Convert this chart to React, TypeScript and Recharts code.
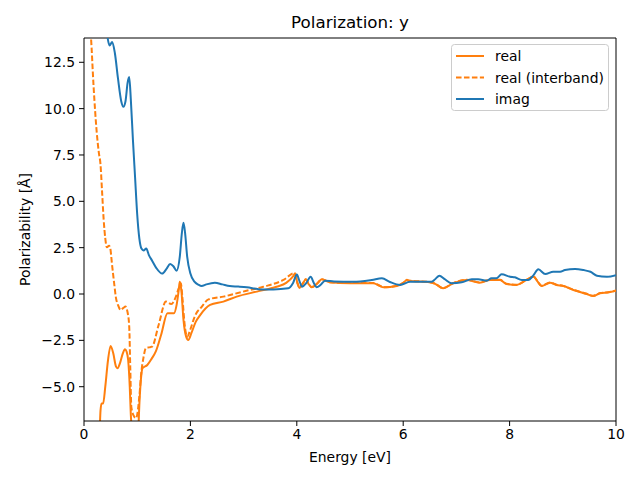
import React from 'react';
import { LineChart, Line, XAxis, YAxis, ReferenceLine } from 'recharts';

// ---- data ----
const imagE = [0.40, 0.44, 0.48, 0.53, 0.58, 0.64, 0.70, 0.74, 0.78, 0.82, 0.85, 0.88, 0.92, 0.96, 1.00, 1.04, 1.08, 1.12, 1.17, 1.22, 1.28, 1.36, 1.47, 1.55, 1.62, 1.68, 1.74, 1.80, 1.84, 1.87, 1.90, 1.94, 2.00, 2.08, 2.15, 2.21, 2.30, 2.46, 2.60, 2.74, 2.90, 3.06, 3.20, 3.31, 3.56, 3.84, 3.93, 4.00, 4.05, 4.10, 4.18, 4.26, 4.32, 4.37, 4.45, 4.53, 4.70, 5.06, 5.41, 5.60, 5.75, 5.94, 6.13, 6.53, 6.60, 6.68, 6.78, 6.91, 7.10, 7.29, 7.41, 7.57, 7.66, 7.75, 7.85, 8.01, 8.10, 8.23, 8.35, 8.45, 8.54, 8.67, 8.82, 8.95, 9.04, 9.23, 9.39, 9.52, 9.64, 9.83, 10.0];
const imagVals = [15.0, 13.9, 13.4, 13.6, 13.0, 11.6, 10.4, 10.1, 10.4, 11.4, 11.7, 10.5, 8.3, 6.3, 4.3, 3.0, 2.45, 2.35, 2.45, 2.1, 1.8, 1.4, 1.1, 1.35, 1.62, 1.5, 1.26, 2.0, 3.3, 3.85, 3.3, 2.0, 1.1, 0.65, 0.5, 0.43, 0.52, 0.61, 0.52, 0.43, 0.40, 0.36, 0.30, 0.25, 0.25, 0.31, 0.6, 1.05, 0.7, 0.39, 0.6, 0.93, 0.6, 0.36, 0.5, 0.72, 0.68, 0.66, 0.76, 0.85, 0.65, 0.49, 0.66, 0.66, 0.8, 0.99, 0.8, 0.58, 0.63, 0.79, 0.79, 0.72, 0.85, 0.85, 1.06, 0.93, 0.9, 0.76, 0.76, 1.02, 1.33, 1.08, 1.2, 1.2, 1.29, 1.35, 1.29, 1.2, 0.99, 0.93, 1.02];

const realE = [0.29, 0.31, 0.33, 0.36, 0.40, 0.45, 0.50, 0.55, 0.60, 0.63, 0.68, 0.73, 0.77, 0.80, 0.83, 0.86, 0.88, 0.91, 0.97, 1.02, 1.04, 1.07, 1.10, 1.19, 1.27, 1.35, 1.45, 1.57, 1.69, 1.74, 1.78, 1.80, 1.83, 1.87, 1.92, 1.96, 2.02, 2.10, 2.18, 2.37, 2.62, 2.87, 3.25, 3.62, 3.80, 3.93, 3.97, 4.01, 4.05, 4.11, 4.17, 4.22, 4.28, 4.38, 4.47, 4.62, 5.00, 5.44, 5.55, 5.63, 5.88, 6.00, 6.07, 6.10, 6.50, 6.60, 6.75, 6.94, 7.19, 7.44, 7.63, 7.82, 7.94, 8.13, 8.32, 8.45, 8.52, 8.60, 8.76, 8.88, 9.01, 9.20, 9.45, 9.57, 9.70, 9.86, 10.0];
const realVals = [-8.0, -6.3, -5.9, -5.9, -5.0, -3.6, -2.8, -3.2, -3.9, -4.0, -3.7, -3.2, -2.98, -3.1, -3.56, -5.0, -6.5, -7.5, -8.0, -7.3, -6.0, -4.6, -4.0, -3.83, -3.5, -3.1, -2.2, -1.04, -1.04, -0.6, 0.2, 0.66, 0.2, -1.4, -2.3, -2.48, -2.1, -1.5, -1.15, -0.59, -0.41, -0.14, 0.13, 0.39, 0.6, 0.95, 1.12, 0.6, 0.33, 0.55, 0.79, 0.55, 0.36, 0.55, 0.79, 0.63, 0.58, 0.58, 0.45, 0.36, 0.43, 0.6, 0.76, 0.72, 0.63, 0.55, 0.31, 0.58, 0.76, 0.61, 0.76, 0.76, 0.54, 0.49, 0.76, 0.93, 0.7, 0.43, 0.61, 0.49, 0.43, 0.22, 0.0, -0.11, 0.04, 0.09, 0.18];

const interE = [0.10, 0.13, 0.18, 0.24, 0.28, 0.31, 0.34, 0.37, 0.40, 0.43, 0.47, 0.49, 0.53, 0.57, 0.60, 0.64, 0.69, 0.74, 0.78, 0.82, 0.85, 0.87, 0.89, 0.94, 0.98, 1.02, 1.05, 1.07, 1.12, 1.16, 1.22, 1.28, 1.40, 1.54, 1.64, 1.72, 1.78, 1.82, 1.85, 1.89, 1.94, 2.00, 2.07, 2.13, 2.18, 2.34, 2.62, 2.99, 3.37, 3.75, 3.95, 4.01, 4.05, 4.11, 4.17, 4.22, 4.28, 4.38, 4.47, 4.62, 5.00, 5.44, 5.55, 5.63, 5.88, 6.00, 6.07, 6.10, 6.50, 6.60, 6.75, 6.94, 7.19, 7.44, 7.63, 7.82, 7.94, 8.13, 8.32, 8.45, 8.52, 8.60, 8.76, 8.88, 9.01, 9.20, 9.45, 9.57, 9.70, 9.86, 10.0];
const interVals = [15.0, 13.9, 11.2, 8.7, 7.6, 7.0, 5.5, 4.0, 3.0, 2.52, 2.6, 2.52, 1.5, 0.5, -0.2, -0.6, -0.86, -0.75, -0.68, -1.0, -1.76, -4.0, -6.1, -6.6, -6.7, -6.1, -5.2, -4.46, -3.4, -2.93, -2.88, -2.84, -1.7, -0.41, -0.54, -0.2, 0.3, 0.58, -0.2, -1.6, -2.3, -1.9, -1.3, -0.95, -0.8, -0.29, -0.14, 0.13, 0.39, 0.76, 1.12, 0.62, 0.36, 0.56, 0.8, 0.57, 0.38, 0.57, 0.8, 0.64, 0.59, 0.59, 0.46, 0.37, 0.44, 0.61, 0.77, 0.73, 0.64, 0.56, 0.32, 0.59, 0.77, 0.62, 0.77, 0.77, 0.55, 0.5, 0.77, 0.94, 0.71, 0.44, 0.62, 0.5, 0.44, 0.23, 0.01, -0.1, 0.05, 0.1, 0.19];

const xTicks = [0, 2, 4, 6, 8, 10];
const yTicks = [-5, -2.5, 0, 2.5, 5, 7.5, 10, 12.5];
const xDomain = [0, 10];
const yDomain = [-6.85, 13.81];

const ORANGE = '#ff7f0e';
const BLUE = '#1f77b4';
const FONT = '"DejaVu Sans", sans-serif';

const zip = (xs: number[], ys: number[]) => xs.map((x, i) => ({ x, y: ys[i] }));
const realData = zip(realE, realVals);
const interData = zip(interE, interVals);
const imagData = zip(imagE, imagVals);

const legendItems = [
  { name: 'real', color: ORANGE, dash: undefined as string | undefined },
  { name: 'real (interband)', color: ORANGE, dash: '5.55 2.4' },
  { name: 'imag', color: BLUE, dash: undefined as string | undefined },
];

const fmtY = (v: number) => v.toFixed(1).replace('-', '\u2212');

export default function App() {
  const tickStyle = { fill: '#000', fontSize: 13.9, fontFamily: FONT };
  return (
    <div style={{ position: 'absolute', left: 0, top: 0, width: 640, height: 480, background: '#fff' }}>
      <LineChart width={640} height={480} margin={{ top: 38, right: 24, bottom: 29, left: 24 }}>
        <XAxis
          type="number"
          dataKey="x"
          domain={xDomain}
          ticks={xTicks}
          allowDataOverflow
          height={30}
          stroke="#000"
          tickSize={5}
          tickMargin={3}
          tick={tickStyle}
          tickLine={{ stroke: '#000' }}
          axisLine={{ stroke: '#000', strokeWidth: 1 }}
          label={(props: any) => {
            const vb = props.viewBox;
            return (
              <text x={vb.x + vb.width / 2} y={457} textAnchor="middle" dominantBaseline="central" fontSize={13.9} fontFamily={FONT} fill="#000">
                Energy [eV]
              </text>
            );
          }}
        />
        <YAxis
          type="number"
          dataKey="y"
          domain={yDomain}
          ticks={yTicks}
          allowDataOverflow
          width={60}
          stroke="#000"
          tickSize={5}
          tickMargin={4}
          tick={tickStyle}
          tickFormatter={fmtY}
          tickLine={{ stroke: '#000' }}
          axisLine={{ stroke: '#000', strokeWidth: 1 }}
          label={(props: any) => {
            const vb = props.viewBox;
            const cx = 25;
            const cy = vb.y + vb.height / 2;
            return (
              <text x={cx} y={cy} transform={`rotate(-90 ${cx} ${cy})`} textAnchor="middle" dominantBaseline="central" fontSize={13.9} fontFamily={FONT} fill="#000">
                Polarizability [Å]
              </text>
            );
          }}
        />
        <ReferenceLine x={xDomain[1]} stroke="#000" strokeWidth={1} />
        <ReferenceLine y={yDomain[1]} stroke="#000" strokeWidth={1} />
        <Line data={realData} dataKey="y" type="monotone" stroke={ORANGE} strokeWidth={2} dot={false} isAnimationActive={false} />
        <Line data={interData} dataKey="y" type="monotone" stroke={ORANGE} strokeWidth={2} strokeDasharray="5.55 2.4" dot={false} isAnimationActive={false} />
        <Line data={imagData} dataKey="y" type="monotone" stroke={BLUE} strokeWidth={2} dot={false} isAnimationActive={false} />
        <text x={350} y={22} textAnchor="middle" dominantBaseline="central" fontSize={16.7} fontFamily={FONT} fill="#000">
          Polarization: y
        </text>
        <g>
          <rect x={451.5} y={44.5} width={157} height={66} rx={3} ry={3} fill="#fff" fillOpacity={0.8} stroke="#cccccc" strokeWidth={1} />
          {legendItems.map((it, i) => (
            <g key={it.name}>
              <line x1={456} x2={484} y1={56 + 21.5 * i} y2={56 + 21.5 * i} stroke={it.color} strokeWidth={2} strokeDasharray={it.dash} />
              <text x={495} y={56 + 21.5 * i} dominantBaseline="central" fontSize={13.9} fontFamily={FONT} fill="#000">
                {it.name}
              </text>
            </g>
          ))}
        </g>
      </LineChart>
    </div>
  );
}
